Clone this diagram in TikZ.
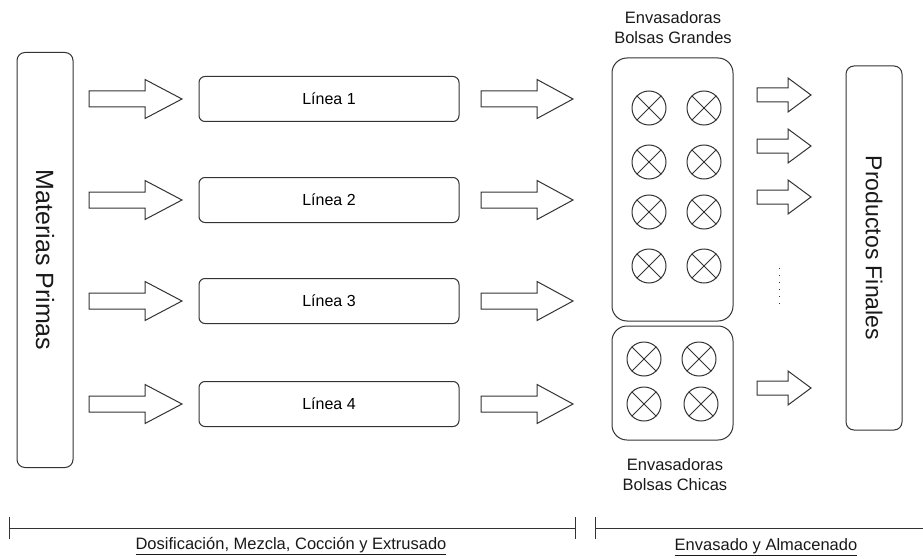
\documentclass[tikz,border=0pt]{standalone}
\usepackage{fontspec}
\setmainfont{Liberation Sans}
\usetikzlibrary{calc}
\tikzset{
  stroke/.style={draw=black!80, line width=1pt},
  tallbox/.style={stroke, rounded corners=8pt, minimum width=56pt, inner sep=0pt},
  linebox/.style={stroke, rounded corners=6pt, minimum width=260pt, minimum height=45pt, inner sep=0pt, font=\fontsize{16}{19}\selectfont},
  groupbox/.style={stroke, rounded corners=15pt, minimum width=121pt, inner sep=0pt},
  machine/.style={stroke, circle, minimum size=34pt, inner sep=0pt},
  arrowline/.style={stroke, line join=miter, fill=white},
  lbl/.style={align=center, text=black!90, inner sep=0pt},
}
\newcommand\blkarrow[6]{\draw[arrowline] (#1,#4-#5) -- (#2,#4-#5) -- (#2,#4-#6) -- (#3,#4) -- (#2,#4+#6) -- (#2,#4+#5) -- (#1,#4+#5) -- cycle;}
\newcommand\machineat[2]{%
  \node[machine] (#1) at (#2) {};
  \draw[stroke] (#1.45) -- (#1.225);
  \draw[stroke] (#1.135) -- (#1.315);}
\begin{document}
\begin{tikzpicture}[x=1pt,y=-1pt]
\useasboundingbox (0,0) rectangle (923,559);
% raw materials
\node[tallbox, minimum height=415pt] (mp) at (45,260) {};
\node[lbl, rotate=-90, font=\fontsize{25}{30}\selectfont] at (mp.center) {Materias Primas};
% lines
\foreach \y/\n in {99/1,200/2,301/3,404/4}{
  \blkarrow{89}{145}{182}{\y}{8}{19.5}
  \node[linebox] (l\n) at (329,\y) {Línea \n};
  \blkarrow{481}{537}{573}{\y}{8}{19.5}
}
% packaging groups
\node[groupbox, minimum height=263pt] (big) at (672.5,189.5) {};
\node[groupbox, minimum height=114pt] (small) at (672.5,383) {};
\node[lbl, font=\fontsize{16.5}{20}\selectfont] at (673,28) {Envasadoras\\Bolsas Grandes};
\node[lbl, font=\fontsize{16.5}{20}\selectfont] at (675,475) {Envasadoras\\Bolsas Chicas};
\machineat{g11}{649,108}
\machineat{g12}{704,108}
\machineat{g21}{649,162}
\machineat{g22}{704,162}
\machineat{g31}{649,212}
\machineat{g32}{704,212}
\machineat{g41}{649,266}
\machineat{g42}{704,266}
\machineat{c11}{644,359}
\machineat{c12}{699,359}
\machineat{c21}{644,404}
\machineat{c22}{701,404}
% output arrows
\foreach \y in {95,146,197,388}{
  \blkarrow{757}{788}{811}{\y}{7}{17}
}
\coordinate (dtop) at (779,268);
\coordinate (dbot) at (779,308);
\draw[draw=black!80, line width=1pt, dash pattern=on 1.2pt off 5.8pt] (dtop) -- (dbot);
% final products
\node[tallbox, minimum height=364pt] (pf) at (874,248) {};
\node[lbl, rotate=-90, font=\fontsize{23}{28}\selectfont] at (pf.center) {Productos Finales};
% phase brackets
\coordinate (a1) at (9,528);
\coordinate (a2) at (575,528);
\coordinate (b1) at (595,528);
\coordinate (b2) at (923,528);
\draw[stroke] (a1) -- (a2);
\draw[stroke] ($(a1)+(0,-11)$) -- ($(a1)+(0,11)$);
\draw[stroke] ($(a2)+(0,-11)$) -- ($(a2)+(0,11)$);
\draw[stroke] (b1) -- (b2);
\draw[stroke] ($(b1)+(0,-11)$) -- ($(b1)+(0,11)$);
\node[lbl, font=\fontsize{16.5}{20}\selectfont] at (291,546) {\underline{Dosificación, Mezcla, Cocción y Extrusado}};
\node[lbl, font=\fontsize{16.5}{20}\selectfont] at (766,547) {\underline{Envasado y Almacenado}};
\end{tikzpicture}
\end{document}
